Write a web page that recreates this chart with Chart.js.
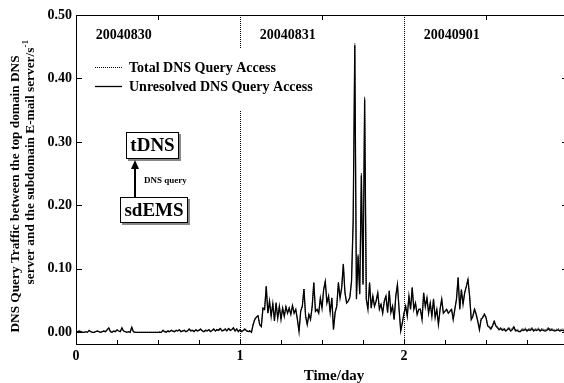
<!DOCTYPE html>
<html>
<head>
<meta charset="utf-8">
<script src="https://cdn.jsdelivr.net/npm/chart.js@4.4.0/dist/chart.umd.min.js"></script>
<style>
  html, body { margin: 0; padding: 0; background: #fff; overflow: hidden; }
  #wrap { position: relative; width: 580px; height: 383px; }
</style>
</head>
<body>
<div id="wrap"><canvas id="dnsChart" width="580" height="383"></canvas></div>
<script>
// ========== DATA ==========
// samples every 0.01 day, starting at day 0
const startDay = 0;
const stepDay = 0.01;

const unresolved = [
  0.000,0.001,0.002,0.001,0.000,0.000,0.001,0.000,0.003,0.001,
  0.000,0.000,0.001,0.002,0.001,0.000,0.001,0.002,0.001,0.004,
  0.007,0.001,0.000,0.002,0.001,0.004,0.002,0.001,0.007,0.002,
  0.001,0.000,0.001,0.000,0.008,0.001,0.000,0.000,0.000,0.000,
  0.000,0.000,0.000,0.000,0.000,0.000,0.000,0.000,0.000,0.000,
  0.000,0.000,0.000,0.003,0.001,0.000,0.002,0.001,0.003,0.002,
  0.001,0.003,0.002,0.004,0.001,0.002,0.003,0.001,0.002,0.005,
  0.002,0.003,0.001,0.004,0.002,0.003,0.005,0.002,0.001,0.003,
  0.002,0.004,0.001,0.003,0.005,0.002,0.004,0.003,0.006,0.002,
  0.003,0.005,0.002,0.006,0.003,0.004,0.007,0.002,0.005,0.001,
  0.004,0.001,0.003,0.005,0.002,0.001,0.002,0.000,0.012,0.020,
  0.024,0.026,0.012,0.009,0.038,0.036,0.072,0.030,0.049,0.025,
  0.045,0.018,0.046,0.022,0.041,0.020,0.038,0.025,0.040,0.030,
  0.038,0.028,0.042,0.030,0.036,0.020,0.001,0.033,0.041,0.068,
  0.025,0.012,0.028,0.020,0.040,0.078,0.033,0.036,0.030,0.054,
  0.038,0.067,0.080,0.046,0.057,0.031,0.054,0.004,0.031,0.041,
  0.078,0.054,0.070,0.107,0.062,0.046,0.049,0.055,0.080,0.175,
  0.452,0.052,0.120,0.060,0.247,0.075,0.367,0.052,0.036,0.078,
  0.038,0.057,0.041,0.049,0.062,0.036,0.044,0.030,0.049,0.057,
  0.031,0.065,0.031,0.041,0.020,0.057,0.075,0.036,0.002,0.015,
  0.030,0.041,0.025,0.057,0.036,0.070,0.036,0.046,0.028,0.036,
  0.036,0.020,0.062,0.040,0.054,0.030,0.046,0.025,0.052,0.023,
  0.036,0.012,0.036,0.052,0.030,0.033,0.036,0.030,0.033,0.036,
  0.020,0.036,0.052,0.086,0.036,0.067,0.044,0.062,0.072,0.083,
  0.057,0.020,0.025,0.036,0.028,0.017,0.004,0.020,0.023,0.028,
  0.023,0.010,0.008,0.005,0.010,0.017,0.010,0.007,0.004,0.006,
  0.003,0.005,0.002,0.004,0.006,0.002,0.004,0.008,0.002,0.003,
  0.001,0.001,0.004,0.003,0.005,0.002,0.004,0.003,0.006,0.002,
  0.004,0.003,0.005,0.002,0.004,0.003,0.002,0.003,0.006,0.003,
  0.004,0.003,0.002,0.003,0.004,0.002,0.003,0.003,0.002,0.003,
  0.003
];

const total = [
  0.000,0.001,0.002,0.001,0.000,0.000,0.001,0.000,0.003,0.001,
  0.000,0.000,0.001,0.002,0.001,0.000,0.001,0.002,0.001,0.004,
  0.007,0.001,0.000,0.002,0.001,0.004,0.002,0.001,0.007,0.002,
  0.001,0.000,0.001,0.000,0.008,0.001,0.000,0.000,0.000,0.000,
  0.000,0.000,0.000,0.000,0.000,0.000,0.000,0.000,0.000,0.000,
  0.000,0.001,0.000,0.004,0.002,0.001,0.003,0.001,0.004,0.002,
  0.002,0.004,0.002,0.005,0.002,0.003,0.004,0.002,0.003,0.006,
  0.003,0.004,0.002,0.005,0.003,0.004,0.006,0.003,0.002,0.004,
  0.003,0.005,0.002,0.004,0.006,0.003,0.005,0.004,0.007,0.003,
  0.004,0.006,0.003,0.007,0.004,0.005,0.008,0.003,0.006,0.002,
  0.005,0.002,0.004,0.006,0.003,0.002,0.003,0.001,0.013,0.021,
  0.025,0.027,0.013,0.010,0.039,0.037,0.073,0.031,0.050,0.026,
  0.046,0.019,0.047,0.023,0.042,0.021,0.039,0.026,0.041,0.031,
  0.039,0.029,0.043,0.031,0.037,0.021,0.002,0.034,0.042,0.069,
  0.026,0.013,0.029,0.021,0.041,0.079,0.034,0.037,0.031,0.055,
  0.039,0.068,0.081,0.047,0.058,0.032,0.055,0.005,0.032,0.042,
  0.079,0.055,0.071,0.108,0.063,0.047,0.050,0.056,0.081,0.177,
  0.455,0.054,0.123,0.062,0.251,0.077,0.371,0.054,0.037,0.079,
  0.039,0.058,0.042,0.050,0.063,0.037,0.045,0.031,0.050,0.058,
  0.032,0.066,0.032,0.042,0.021,0.058,0.076,0.037,0.003,0.016,
  0.031,0.042,0.026,0.058,0.037,0.071,0.037,0.047,0.029,0.037,
  0.037,0.021,0.063,0.041,0.055,0.031,0.047,0.026,0.053,0.024,
  0.037,0.013,0.037,0.053,0.031,0.034,0.037,0.031,0.034,0.037,
  0.021,0.037,0.053,0.087,0.037,0.068,0.045,0.063,0.073,0.084,
  0.058,0.022,0.027,0.038,0.030,0.019,0.006,0.022,0.025,0.030,
  0.025,0.012,0.010,0.007,0.012,0.019,0.012,0.009,0.006,0.008,
  0.005,0.007,0.004,0.006,0.008,0.004,0.006,0.010,0.004,0.005,
  0.003,0.003,0.006,0.005,0.007,0.004,0.006,0.005,0.008,0.004,
  0.006,0.005,0.007,0.004,0.006,0.005,0.004,0.005,0.008,0.005,
  0.006,0.005,0.004,0.005,0.006,0.004,0.005,0.005,0.004,0.005,
  0.005
];

const seriesNames = ['Total DNS Query Access', 'Unresolved DNS Query Access'];
const yTicks = [0, 0.1, 0.2, 0.3, 0.4, 0.5];
const xLabelTicks = [0, 1, 2, 3];
const xMinorTicks = [0, 0.25, 0.5, 0.75, 1, 1.25, 1.5, 1.75, 2, 2.25, 2.5, 2.75, 3];
const xTopTicks = [0.5, 1.5, 2.5];
const dayBreaks = [1, 2];
const dayLabels = ['20040830', '20040831', '20040901'];
const yTitle = ['DNS Query Traffic between the top domain DNS', 'server and the subdomain E-mail server/s'];
const yTitleSup = '-1';
const xTitle = 'Time/day';

// ========== HELPERS ==========
const SERIF = '"Liberation Serif", "Times New Roman", serif';
const bold = size => `bold ${size}px ${SERIF}`;

function toPoints(values) {
  return values.map((v, i) => ({ x: +(startDay + i * stepDay).toFixed(2), y: v }));
}

function boxedText(ctx, text, x0, y0, x1, y1, size) {
  ctx.fillStyle = '#888';
  ctx.fillRect(x0 + 2, y0 + 2, x1 - x0, y1 - y0);
  ctx.fillStyle = '#fff';
  ctx.fillRect(x0, y0, x1 - x0, y1 - y0);
  ctx.strokeStyle = '#000';
  ctx.lineWidth = 1;
  ctx.strokeRect(x0 + 0.5, y0 + 0.5, x1 - x0 - 1, y1 - y0 - 1);
  ctx.fillStyle = '#000';
  ctx.font = bold(size);
  ctx.textAlign = 'center';
  ctx.textBaseline = 'middle';
  ctx.fillText(text, (x0 + x1) / 2, (y0 + y1) / 2 + 1);
}

// ========== DECORATION PLUGIN ==========
const decorPlugin = {
  id: 'decor',
  beforeDatasetsDraw(chart) {
    const { ctx, chartArea: a, scales: { x } } = chart;
    ctx.save();
    ctx.strokeStyle = '#000';
    ctx.lineWidth = 1;
    ctx.setLineDash([1, 1]);
    dayBreaks.forEach(d => {
      const px = Math.round(x.getPixelForValue(d)) + 0.5;
      ctx.beginPath();
      ctx.moveTo(px, a.top);
      ctx.lineTo(px, a.bottom);
      ctx.stroke();
    });
    ctx.restore();
  },
  afterDraw(chart) {
    const { ctx, chartArea: a, scales: { x, y } } = chart;
    ctx.save();

    // frame and inward ticks
    ctx.strokeStyle = '#000';
    ctx.lineWidth = 1;
    ctx.strokeRect(a.left + 0.5, a.top + 0.5, a.right - a.left - 1, a.bottom - a.top - 1);
    ctx.beginPath();
    yTicks.forEach(v => {
      const py = Math.round(y.getPixelForValue(v)) + 0.5;
      ctx.moveTo(a.left, py); ctx.lineTo(a.left + 6, py);
      ctx.moveTo(a.right, py); ctx.lineTo(a.right - 6, py);
    });
    xMinorTicks.forEach(v => {
      const px = Math.round(x.getPixelForValue(v)) + 0.5;
      ctx.moveTo(px, a.bottom); ctx.lineTo(px, a.bottom - 5);
    });
    xTopTicks.forEach(v => {
      const px = Math.round(x.getPixelForValue(v)) + 0.5;
      ctx.moveTo(px, a.top); ctx.lineTo(px, a.top + 5);
    });
    ctx.stroke();

    // day labels
    ctx.fillStyle = '#000';
    ctx.font = bold(14);
    ctx.textAlign = 'left';
    ctx.textBaseline = 'middle';
    dayLabels.forEach((t, i) => ctx.fillText(t, x.getPixelForValue(i + 0.12), 35));

    // legend
    ctx.fillStyle = '#fff';
    ctx.fillRect(88, 48, 232, 62);
    const ds = chart.data.datasets;
    [67, 86].forEach((ly, i) => {
      ctx.strokeStyle = '#000';
      ctx.lineWidth = ds[i].borderWidth;
      ctx.setLineDash(ds[i].borderDash || []);
      ctx.beginPath();
      ctx.moveTo(95, ly + 0.5);
      ctx.lineTo(122, ly + 0.5);
      ctx.stroke();
      ctx.setLineDash([]);
      ctx.fillStyle = '#000';
      ctx.font = bold(14);
      ctx.fillText(ds[i].label, 129, ly + 1);
    });

    // tDNS / sdEMS annotation
    boxedText(ctx, 'tDNS', 126, 132, 179, 159, 19);
    boxedText(ctx, 'sdEMS', 120, 197, 188, 223, 19);
    ctx.strokeStyle = '#000';
    ctx.lineWidth = 2;
    ctx.beginPath();
    ctx.moveTo(135, 197);
    ctx.lineTo(135, 168);
    ctx.stroke();
    ctx.fillStyle = '#000';
    ctx.beginPath();
    ctx.moveTo(135, 160);
    ctx.lineTo(131, 169);
    ctx.lineTo(139, 169);
    ctx.closePath();
    ctx.fill();
    ctx.font = bold(9);
    ctx.textAlign = 'left';
    ctx.fillText('DNS query', 144, 181);

    // y axis title (two rotated lines)
    const titleSize = 13.3;
    ctx.font = bold(titleSize);
    ctx.save();
    ctx.translate(15.5, 194);
    ctx.rotate(-Math.PI / 2);
    ctx.textAlign = 'center';
    ctx.fillText(yTitle[0], 0, 0);
    ctx.restore();

    ctx.save();
    ctx.translate(30.5, 162.5);
    ctx.rotate(-Math.PI / 2);
    const w1 = ctx.measureText(yTitle[1]).width;
    ctx.font = bold(8.5);
    const w2 = ctx.measureText(yTitleSup).width;
    const sx = -(w1 + w2) / 2;
    ctx.textAlign = 'left';
    ctx.font = bold(titleSize);
    ctx.fillText(yTitle[1], sx, 0);
    ctx.font = bold(8.5);
    ctx.fillText(yTitleSup, sx + w1 + 0.5, -5);
    ctx.restore();

    // x axis title
    ctx.font = bold(15);
    ctx.textAlign = 'center';
    ctx.fillText(xTitle, 334, 376);

    ctx.restore();
  }
};

// ========== CHART ==========
function initDnsChart() {
  const canvas = document.getElementById('dnsChart');
  new Chart(canvas.getContext('2d'), {
    type: 'line',
    data: {
      datasets: [
        {
          label: seriesNames[0],
          data: toPoints(total),
          borderColor: '#000',
          borderWidth: 1,
          borderDash: [1, 1],
          pointRadius: 0,
          tension: 0
        },
        {
          label: seriesNames[1],
          data: toPoints(unresolved),
          borderColor: '#000',
          borderWidth: 1.3,
          pointRadius: 0,
          tension: 0
        }
      ]
    },
    options: {
      responsive: false,
      animation: false,
      events: [],
      layout: { padding: { top: 15, right: 12, left: 0, bottom: 0 } },
      plugins: { legend: { display: false }, tooltip: { enabled: false } },
      scales: {
        x: {
          type: 'linear',
          min: 0,
          max: 3,
          afterBuildTicks: s => { s.ticks = xLabelTicks.map(v => ({ value: v })); },
          afterFit: s => { s.height = 38; },
          grid: { display: false, drawTicks: false },
          border: { display: false },
          ticks: {
            color: '#000',
            font: { family: SERIF, size: 14, weight: 'bold' },
            padding: 3,
            maxRotation: 0,
            callback: v => String(v)
          }
        },
        y: {
          min: -0.02,
          max: 0.5,
          afterBuildTicks: s => { s.ticks = yTicks.map(v => ({ value: v })); },
          afterFit: s => { s.width = 76; },
          grid: { display: false, drawTicks: false },
          border: { display: false },
          ticks: {
            color: '#000',
            font: { family: SERIF, size: 14, weight: 'bold' },
            padding: 4,
            callback: v => v.toFixed(2)
          }
        }
      }
    },
    plugins: [decorPlugin]
  });
}

document.addEventListener('DOMContentLoaded', initDnsChart);
</script>
</body>
</html>
